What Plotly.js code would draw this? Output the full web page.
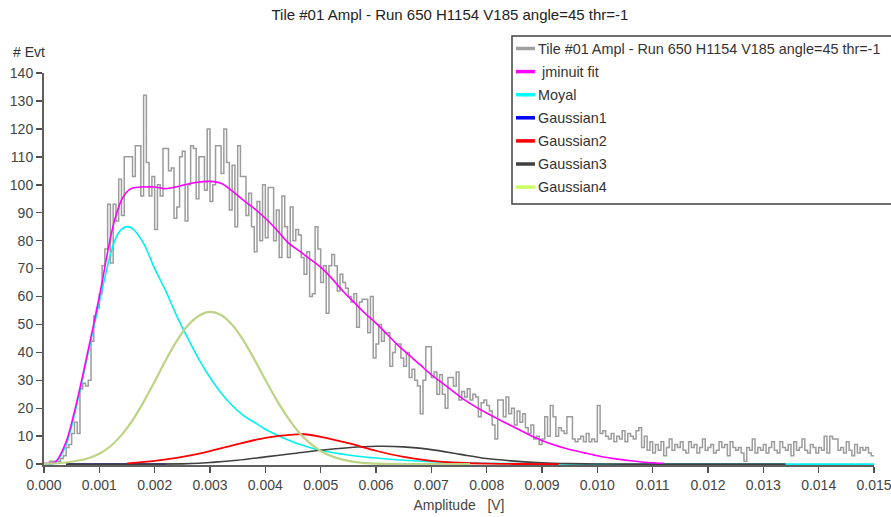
<!DOCTYPE html>
<html>
<head>
<meta charset="utf-8">
<script src="https://cdn.plot.ly/plotly-3.0.1.min.js"></script>
<style>
  html, body { margin: 0; padding: 0; background: #ffffff; }
  #chart { width: 891px; height: 517px; }
</style>
</head>
<body>
<div id="chart"></div>
<script>
// Amplitude histogram (bins of 0.05 mV starting at 0 V)
const binStart = 0.0;
const binWidth = 0.00005;
const counts = [
  0,0,1,1,1,1,2,3,6,7,
  11,15,11,27,29,28,30,44,53,56,
  61,71,77,93,72,93,87,102,89,110,
  110,110,103,114,114,96,132,108,96,103,
  84,100,96,113,113,105,106,88,92,110,
  112,87,100,114,113,95,110,110,98,120,
  94,100,114,114,104,120,108,91,107,85,
  114,103,103,89,97,85,76,94,80,100,
  81,99,99,80,91,74,96,85,74,92,
  80,84,82,74,68,76,60,61,85,77,
  65,71,54,71,75,71,62,68,65,63,
  60,58,61,49,58,59,59,47,60,38,
  43,50,44,47,47,35,40,43,43,38,
  35,40,31,34,30,28,18,30,42,42,
  31,33,25,32,25,20,31,31,28,33,
  23,26,24,27,23,25,24,17,22,23,
  21,19,14,9,23,23,17,24,18,20,
  14,19,15,18,13,11,14,9,10,7,
  9,17,10,21,17,10,13,12,11,17,
  17,9,8,9,10,8,11,8,9,8,
  21,11,12,10,9,11,8,10,9,12,
  8,11,10,9,12,13,6,10,5,8,
  4,7,5,8,3,6,9,5,7,6,
  8,5,4,8,6,7,4,6,9,5,
  6,7,4,5,8,6,7,3,8,6,
  5,6,4,1,6,5,9,4,6,5,
  7,4,6,8,5,4,8,6,5,7,
  3,8,5,6,9,5,4,7,6,4,
  6,5,10,4,10,9,9,5,6,4,
  8,5,3,7,4,6,5,6,4,3
];

// jminuit fit (total)
const fitX = [0.0000,0.0002,0.0004,0.0006,0.0008,0.0010,0.0012,0.0013,0.0014,0.0015,0.0016,0.0018,0.0020,0.0022,0.0024,0.0026,0.0028,0.0030,0.0032,0.0034,0.0036,0.0038,0.0040,0.0042,0.0044,0.0046,0.0048,0.0050,0.0052,0.0054,0.0056,0.0058,0.0060,0.0062,0.0064,0.0066,0.0068,0.0070,0.0072,0.0074,0.0076,0.0078,0.0080,0.0082,0.0084,0.0086,0.0088,0.0090,0.0092,0.0094,0.0096,0.0098,0.0100,0.0102,0.0104,0.0106,0.0108,0.0110,0.0112];
const fitY = [0.3,0.7,8,23,41,60,81,89,94.5,97.5,98.8,99.2,99.2,98.6,99.3,100.3,101,101.2,100.5,97.8,94.5,91.5,88,84,79.5,76.5,73.5,70.5,66.5,62,58,54,50.5,46.5,42.5,39,35.5,32,29,26,23,20.5,18.3,16.2,14.2,12.2,10.2,8.5,7.0,5.8,4.8,3.9,3.0,2.3,1.7,1.2,0.8,0.5,0.3];

// Moyal component
const moyalX = [0.0000,0.0002,0.0004,0.0006,0.0008,0.0010,0.0012,0.0013,0.0014,0.0015,0.0016,0.0018,0.0020,0.0022,0.0024,0.0026,0.0028,0.0030,0.0032,0.0034,0.0036,0.0038,0.0040,0.0042,0.0044,0.0046,0.0048,0.0050,0.0055,0.0060,0.0065,0.0070,0.0075,0.0080,0.0090,0.0100,0.0110,0.0120,0.0130,0.0140,0.0150];
const moyalY = [0,0.5,7,22,40,58,75,81,84,85,84.3,79,70,62,53,45,37.5,31,25.5,21,17.5,15,12.5,10.5,8.7,7.2,6.0,5.0,3.3,2.2,1.4,0.9,0.5,0.3,0.1,0,0,0,0,0,0];

// Gaussian1 (null component, flat at zero)
const g1X = [0.0004,0.0010,0.0016,0.0022];
const g1Y = [0,0,0,0];

// Gaussian2
const g2X = [0.0015,0.0020,0.0025,0.0030,0.0035,0.0040,0.0045,0.0047,0.0050,0.0055,0.0060,0.0065,0.0070,0.0075,0.0080,0.0085,0.0093];
const g2Y = [0.3,1.2,2.6,4.7,7.2,9.4,10.6,10.7,9.8,7.5,4.8,2.6,1.2,0.5,0.2,0.05,0];

// Gaussian3
const g3X = [0.0004,0.0015,0.0025,0.0028,0.0030,0.0035,0.0040,0.0045,0.0050,0.0055,0.0060,0.0065,0.0070,0.0075,0.0080,0.0085,0.0090,0.0095,0.0100,0.0110,0.0120,0.0134];
const g3Y = [0,0,0.1,0.3,0.6,1.4,2.6,3.8,5.0,5.9,6.4,6.2,5.2,3.6,2.0,1.1,0.5,0.2,0.05,0,0,0];

// Gaussian4
const g4X = [0.0000,0.0004,0.0008,0.0010,0.0012,0.0014,0.0016,0.0018,0.0020,0.0022,0.0024,0.0026,0.0028,0.0030,0.0032,0.0034,0.0036,0.0038,0.0040,0.0042,0.0044,0.0046,0.0048,0.0050,0.0052,0.0054,0.0056,0.0058,0.0060,0.0064,0.0068,0.0077];
const g4Y = [0.1,0.6,2.1,3.7,6.4,10.4,15.7,22.3,29.6,37.2,44.1,49.6,53.1,54.5,53.4,49.9,44.4,37.6,30.2,23.1,16.8,11.5,7.6,4.7,2.8,1.6,0.8,0.4,0.2,0.05,0,0];

const xTickVals = [0,0.001,0.002,0.003,0.004,0.005,0.006,0.007,0.008,0.009,0.010,0.011,0.012,0.013,0.014,0.015];

const titleText = 'Tile #01 Ampl - Run 650 H1154 V185 angle=45 thr=-1';
const xTitle = 'Amplitude\u00a0\u00a0\u00a0[V]';
const yTitle = '# Evt';
const legendNames = [titleText, '\u00a0jminuit fit', 'Moyal', 'Gaussian1', 'Gaussian2', 'Gaussian3', 'Gaussian4'];
const legendColors = ['#a0a0a0', '#ff00ff', '#00ffff', '#0000ff', '#ff0000', '#404040', '#ccff66'];

// step outline of the histogram
const histX = [], histY = [];
for (let i = 0; i < counts.length; i++) {
  histX.push(binStart + i * binWidth);
  histY.push(counts[i]);
}
histX.push(binStart + counts.length * binWidth);
histY.push(counts[counts.length - 1]);

const curve = (x, y, color, width) => ({
  x: x, y: y, type: 'scatter', mode: 'lines', showlegend: false, hoverinfo: 'skip',
  line: { color: color, width: width, shape: 'spline', smoothing: 0.8 }
});

const traces = [
  { x: histX, y: histY, type: 'scatter', mode: 'lines', showlegend: false, hoverinfo: 'skip',
    line: { color: '#9c9c9c', width: 1.5, shape: 'hv' } },
  curve(moyalX, moyalY, '#00f0f0', 1.6),
  curve(g1X, g1Y, '#0000ff', 2),
  curve(g3X, g3Y, '#404040', 1.6),
  curve(fitX, fitY, '#ff00ff', 1.6),
  curve(g2X, g2Y, '#ff0000', 1.8),
  curve(g4X, g4Y, '#bcd484', 2.2)
];

// plot-area pixel geometry used for the legend box
const L = 44, T = 73, W = 830, H = 392;
const px = v => (v - L) / W;
const py = v => (T + H - v) / H;

const shapes = [
  { type: 'rect', xref: 'paper', yref: 'paper', x0: px(512), x1: px(900), y0: py(36), y1: py(204),
    line: { color: '#404040', width: 1.5 }, fillcolor: 'rgba(255,255,255,1)', layer: 'above' }
];
const annotations = [
  { xref: 'paper', yref: 'paper', x: px(11), y: py(52), xanchor: 'left', yanchor: 'middle',
    text: yTitle, showarrow: false, font: { family: 'Liberation Sans, Arial, sans-serif', size: 14, color: '#333' } }
];
legendNames.forEach((name, k) => {
  const rowY = 48.5 + 23.1 * k;
  shapes.push({ type: 'line', xref: 'paper', yref: 'paper', x0: px(516), x1: px(535), y0: py(rowY), y1: py(rowY),
    line: { color: legendColors[k], width: 3.5 }, layer: 'above' });
  annotations.push({ xref: 'paper', yref: 'paper', x: px(536), y: py(rowY), xanchor: 'left', yanchor: 'middle',
    text: name, showarrow: false, font: { family: 'Liberation Sans, Arial, sans-serif', size: 14.4, color: '#333' } });
});

const axisFont = { family: 'Liberation Sans, Arial, sans-serif', size: 14, color: '#444' };

const layout = {
  width: 891, height: 517,
  margin: { l: L, r: 891 - L - W, t: T, b: 517 - T - H, pad: 0 },
  paper_bgcolor: '#ffffff', plot_bgcolor: '#ffffff',
  showlegend: false,
  title: { text: titleText, x: 0.505, xanchor: 'center', y: 0.972, yanchor: 'middle',
    font: { family: 'Liberation Sans, Arial, sans-serif', size: 15, color: '#222' } },
  xaxis: {
    range: [0, 0.0150001], tickvals: xTickVals, tickformat: '.3f', ticklabeloverflow: 'allow',
    showgrid: false, zeroline: false, showline: true, linecolor: '#606060', linewidth: 2,
    ticks: 'outside', ticklen: 6, tickwidth: 1.5, tickcolor: '#505050',
    tickfont: axisFont, layer: 'below traces',
    title: { text: xTitle, font: axisFont, standoff: 8 }
  },
  yaxis: {
    range: [-0.3, 140], dtick: 10, tick0: 0,
    showgrid: false, zeroline: false, showline: true, linecolor: '#606060', linewidth: 2,
    ticks: 'outside', ticklen: 6, tickwidth: 1.5, tickcolor: '#505050',
    tickfont: axisFont, layer: 'below traces'
  },
  shapes: shapes,
  annotations: annotations
};

Plotly.newPlot('chart', traces, layout, { displayModeBar: false, staticPlot: true });
</script>
</body>
</html>
